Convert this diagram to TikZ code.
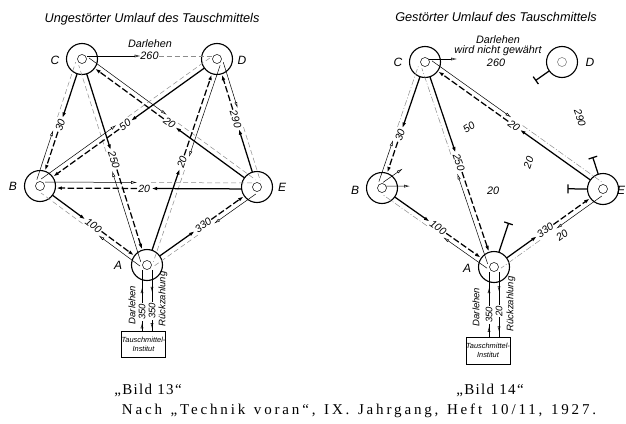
\documentclass[tikz,border=0pt]{standalone}
\usepackage{fontspec}
\setmainfont{Liberation Serif}
\setsansfont{Liberation Sans}
\newfontfamily\srcfont{Liberation Serif}[LetterSpace=19,WordSpace=1.3]
\newfontfamily\bildfont{Liberation Serif}[LetterSpace=9]
\usetikzlibrary{calc,arrows.meta,decorations.markings}
\newif\iflabpass
\newcommand\mkline[4]{%
  \coordinate (#4-s) at ($(#1)!#3!90:(#2)$);
  \coordinate (#4-e) at ($(#2)!#3!-90:(#1)$);}
% #1 P, #2 Q, #3 t, #4 label, #5 half gap, #6 thin offset, #7 thick offset, #8 grey style
\newcommand\bundle[8]{%
  \mkline{#1}{#2}{#7}{tk}%
  \iflabpass
    \path (tk-s) -- (tk-e) node[lab,pos=#3]{#4};
  \else
    \coordinate (tk-m) at ($(tk-s)!#3!(tk-e)$);
    \draw[thk,farr] ($(tk-s)!15.5pt!(tk-e)$) -- ($(tk-m)!#5!(tk-s)$);
    \draw[thkd,farr] ($(tk-m)!#5!(tk-e)$) -- ($(tk-e)!16pt!(tk-s)$);
    \mkline{#2}{#1}{#6}{tn}%
    \coordinate (tn-m) at ($(tn-e)!#3!(tn-s)$);
    \draw[thn,oarr] ($(tn-s)!5pt!(tn-e)$) -- ($(tn-m)!#5!(tn-s)$);
    \draw[#8] ($(tn-m)!#5!(tn-e)$) -- ($(tn-e)!5pt!(tn-s)$);
  \fi}
% stub with T bar
\newcommand\stub[3]{%
  \coordinate (st-a) at ($(#1)!15.5pt!(#2)$);
  \coordinate (st-b) at ($(#1)!#3!(#2)$);
  \draw[thk] (st-a) -- (st-b);
  \draw[thk] ($(st-b)!4.5pt!90:(#2)$) -- ($(st-b)!4.5pt!-90:(#2)$);}
% thin stub with open arrow
\newcommand\ostub[4]{%
  \mkline{#1}{#2}{#3}{os}%
  \draw[thn,oarr] ($(os-s)!4pt!(os-e)$) -- ($(os-s)!#4!(os-e)$);}
\newcommand\leftedges{%
  \bundle{lC}{lB}{0.52}{30}{7pt}{5pt}{0pt}{gry}
  \bundle{lC}{lA}{0.49}{250}{10pt}{5pt}{0pt}{gry}
  \bundle{lE}{lC}{0.5}{20}{7pt}{5pt}{0pt}{gry}
  \bundle{lD}{lB}{0.52}{50}{7pt}{5pt}{0pt}{gry}
  \bundle{lA}{lD}{0.5}{20}{7pt}{5pt}{0pt}{gry}
  \bundle{lE}{lD}{0.53}{290}{10pt}{5pt}{0pt}{gry}
  \bundle{lE}{lB}{0.52}{20}{7pt}{4pt}{2pt}{gry}
  \bundle{lB}{lA}{0.5}{100}{10pt}{5pt}{0pt}{gry}
  \bundle{lA}{lE}{0.51}{330}{10pt}{5pt}{0pt}{gry}}
\newcommand\rightedges{%
  \bundle{rC}{rB}{0.58}{30}{7pt}{5pt}{0pt}{gryd}
  \bundle{rC}{rA}{0.49}{250}{10pt}{5pt}{0pt}{gryd}
  \bundle{rE}{rC}{0.5}{20}{7pt}{5pt}{0pt}{gryd}
  \bundle{rB}{rA}{0.5}{100}{10pt}{5pt}{0pt}{gryd}
  \bundle{rA}{rE}{0.47}{330}{10pt}{5pt}{0pt}{gryd}}
\begin{document}
\begin{tikzpicture}[x=1pt,y=-1pt,
  station/.style={circle,draw,line width=1.1pt,minimum size=31pt,inner sep=0pt},
  core/.style={circle,draw,line width=0.5pt,minimum size=9pt,inner sep=0pt},
  thk/.style={line width=1.25pt},
  thkd/.style={line width=1.25pt,dash pattern=on 6.5pt off 2.5pt},
  thn/.style={line width=0.5pt},
  gry/.style={line width=0.5pt,black!45,dash pattern=on 5pt off 3pt},
  gryd/.style={line width=0.5pt,black!45,dash pattern=on 6pt off 2pt on 1pt off 2pt},
  farr/.style={-{Latex[length=6pt,width=3.6pt]}},
  oarr/.style={-{Latex[open,length=6pt,width=3pt]}},
  otip/.style={postaction={decorate,decoration={markings,mark=at position #1 with {\arrow{Latex[open,length=5pt,width=3pt]}}}}},
  lab/.style={font=\sffamily\itshape\fontsize{10.5}{10.5}\selectfont,fill=white,inner sep=0.6pt,sloped},
  flab/.style={font=\sffamily\itshape\fontsize{10.5}{10.5}\selectfont,inner sep=0.6pt,sloped},
  nl/.style={font=\sffamily\itshape\fontsize{12}{12}\selectfont},
  ttl/.style={font=\sffamily\itshape\fontsize{12.7}{13}\selectfont},
  tl/.style={font=\sffamily\itshape\fontsize{10.8}{11}\selectfont,inner sep=0.5pt},
  vlab/.style={font=\sffamily\itshape\fontsize{9.5}{9.5}\selectfont,rotate=90,inner sep=0.5pt},
  vnum/.style={font=\sffamily\itshape\fontsize{9.5}{9.5}\selectfont,rotate=90,inner sep=0.8pt,fill=white},
  inst/.style={draw,line width=0.8pt,inner sep=0pt,align=center,font=\sffamily\itshape\fontsize{7.4}{9}\selectfont},
  captxt/.style={font=\fontsize{15}{15}\selectfont}]
\useasboundingbox (0,0) rectangle (626,423);
% ---------- titles ----------
\node[ttl] (t1) at (152,19) {Ungestörter Umlauf des Tauschmittels};
\node[ttl] (t2) at (496,17) {Gestörter Umlauf des Tauschmittels};
% ---------- left stations ----------
\node[station] (lC) at (82,59) {};
\node[station] (lD) at (217,59) {};
\node[station] (lB) at (40,186) {};
\node[station] (lE) at (257,187) {};
\node[station] (lA) at (147,265) {};
\foreach \n in {lC,lD,lB,lE,lA} \node[core] at (\n) {};
\node[nl] at (55,60) {C};
\node[nl] at (242,60) {D};
\node[nl] at (13,186) {B};
\node[nl] at (282,187) {E};
\node[nl] at (118,265) {A};
\labpassfalse\leftedges
% C -- D loan line
\mkline{lC}{lD}{3pt}{cd}
\coordinate (cd-m) at ($(cd-s)!0.5!(cd-e)$);
\draw[thn,oarr] ($(cd-s)!5pt!(cd-e)$) -- ($(cd-m)!9pt!(cd-s)$);
\draw[gry] ($(cd-m)!9pt!(cd-e)$) -- ($(cd-e)!5pt!(cd-s)$);
\labpasstrue\leftedges
\node[tl,fill=white] at (cd-m) {260};
\node[tl] at (150,44) {Darlehen};
% institute left
\node[inst,minimum width=43pt,minimum height=26pt] (lI) at (143.5,344) {Tauschmittel-\\Institut};
\coordinate (lA1) at ([xshift=-5pt,yshift=-5pt]lA.center);
\coordinate (lA2) at ([xshift=5pt,yshift=-5pt]lA.center);
\draw[thn,otip=0.12,otip=0.7] (lA1 |- lI.north) -- (lA1);
\draw[thn,otip=0.36,otip=0.96] (lA2) -- (lA2 |- lI.north);
\node[vlab] at (132,305) {Darlehen};
\node[vnum] at (lA1 |- 0,312) {350};
\node[vnum] at (lA2 |- 0,311) {350};
\node[vlab] at (163,299) {Rückzahlung};
% ---------- right stations ----------
\node[station] (rC) at (425,62) {};
\node[station] (rD) at (562,62) {};
\node[station] (rB) at (382,188) {};
\node[station] (rE) at (603,189) {};
\node[station] (rA) at (494,267) {};
\foreach \n in {rC,rB,rE,rA} \node[core] at (\n) {};
\node[core,black!55] at (rD) {};
\node[nl] at (398,62) {C};
\node[nl] at (590,62) {D};
\node[nl] at (355,190) {B};
\node[nl] at (621,190) {E};
\node[nl] at (467,268) {A};
\labpassfalse\rightedges
\stub{rD}{rB}{32pt}
\stub{rE}{rD}{33pt}
\stub{rE}{rB}{35pt}
\stub{rA}{rD}{46pt}
\ostub{rC}{rD}{3pt}{32pt}
\ostub{rB}{rD}{4pt}{28pt}
\ostub{rB}{rE}{2pt}{28pt}
\labpasstrue\rightedges
\path ($(rA)!14pt!-90:(rE)$) -- ($(rE)!14pt!90:(rA)$) node[lab,pos=0.55] {20};
\path (rD) -- (rB) node[flab,pos=0.52] {50};
\path (rD) -- (rE) node[flab,pos=0.42] {290};
\path (rD) -- (rA) node[flab,pos=0.49] {20};
\node[tl] at (493,191) {20};
\node[tl] at (498,40) {Darlehen};
\node[tl] at (498,51) {wird nicht gewährt};
\node[tl] at (496,63) {260};
% institute right
\node[inst,minimum width=44pt,minimum height=27pt] (rI) at (488,350.5) {Tauschmittel-\\Institut};
\coordinate (rA1) at ([xshift=-5pt,yshift=-5pt]rA.center);
\coordinate (rA2) at ([xshift=5pt,yshift=-5pt]rA.center);
\draw[thn,otip=0.15,otip=0.75] (rA1 |- rI.north) -- (rA1);
\draw[thn,otip=0.3,otip=0.92] (rA2) -- (rA2 |- rI.north);
\node[vlab] at (476,307) {Darlehen};
\node[vnum] at (rA1 |- 0,315) {350};
\node[vnum] at (rA2 |- 0,311) {20};
\node[vlab] at (511,304) {Rückzahlung};
% ---------- captions ----------
\node[captxt] (b13) at (148,390) {\bildfont „Bild 13“};
\node[captxt] (b14) at (490,390) {\bildfont „Bild 14“};
\node[captxt] (src) at (359,411) {\srcfont Nach „Technik voran“, IX. Jahrgang, Heft 10/11, 1927.};
\end{tikzpicture}
\end{document}
